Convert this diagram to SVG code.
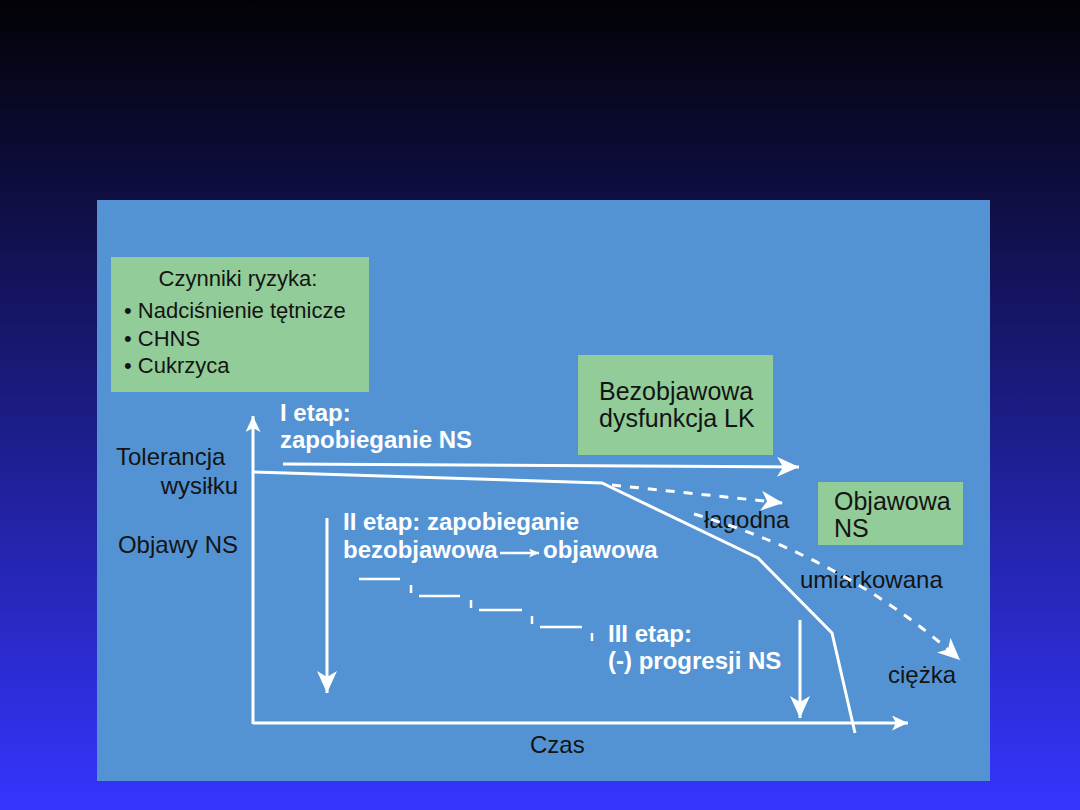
<svg xmlns="http://www.w3.org/2000/svg" width="1080" height="810" viewBox="0 0 1080 810">
  <defs>
    <linearGradient id="bg" x1="0" y1="0" x2="0" y2="1">
      <stop offset="0" stop-color="#020206"/>
      <stop offset="1" stop-color="#3535ff"/>
    </linearGradient>
    <marker id="ah" markerUnits="userSpaceOnUse" markerWidth="24" markerHeight="22" refX="22" refY="10" orient="auto">
      <path d="M0,0 L22,10 L0,20 L6,10 Z" fill="#ffffff"/>
    </marker>
    <marker id="ahs" markerUnits="userSpaceOnUse" markerWidth="18" markerHeight="16" refX="16" refY="7.5" orient="auto">
      <path d="M0,0 L16,7.5 L0,15 L4,7.5 Z" fill="#ffffff"/>
    </marker>
    <marker id="aht" markerUnits="userSpaceOnUse" markerWidth="12" markerHeight="10" refX="10" refY="4.5" orient="auto">
      <path d="M0,0 L10,4.5 L0,9 L2.5,4.5 Z" fill="#ffffff"/>
    </marker>
    <style>
      .box { fill: #92cc98; }
      .t { font-family: "Liberation Sans", Arial, sans-serif; fill: #141414; }
      .w { font-family: "Liberation Sans", Arial, sans-serif; fill: #ffffff; font-weight: bold; font-size: 24px; }
      .ln { stroke: #ffffff; stroke-width: 3; fill: none; }
      .dash { stroke: #ffffff; stroke-width: 3; fill: none; stroke-dasharray: 9 9; }
      .st { stroke: #ffffff; stroke-width: 2.5; fill: none; }
    </style>
  </defs>

  <rect x="0" y="0" width="1080" height="810" fill="url(#bg)"/>
  <rect x="97" y="200" width="893" height="581" fill="#5393d3"/>

  <g id="risk-factors">
    <rect class="box" x="111" y="257" width="258" height="135"/>
    <text class="t" x="238" y="286" font-size="22" text-anchor="middle">Czynniki ryzyka:</text>
    <text class="t" x="124" y="318" font-size="22">• Nadciśnienie tętnicze</text>
    <text class="t" x="124" y="346" font-size="22">• CHNS</text>
    <text class="t" x="124" y="373" font-size="22">• Cukrzyca</text>
  </g>

  <g id="asymptomatic-lv">
    <rect class="box" x="578" y="355" width="195" height="100"/>
    <text class="t" x="599" y="400" font-size="25">Bezobjawowa</text>
    <text class="t" x="599" y="427" font-size="25">dysfunkcja LK</text>
  </g>

  <g id="symptomatic-hf">
    <rect class="box" x="818" y="482" width="145" height="63"/>
    <text class="t" x="834" y="510" font-size="25">Objawowa</text>
    <text class="t" x="834" y="537" font-size="25">NS</text>
  </g>

  <g id="axis-labels">
    <text class="t" x="116" y="465" font-size="24">Tolerancja</text>
    <text class="t" x="238" y="494" font-size="24" text-anchor="end">wysiłku</text>
    <text class="t" x="238" y="553" font-size="24" text-anchor="end">Objawy NS</text>
    <text class="t" x="530" y="753" font-size="24">Czas</text>
  </g>

  <g id="severity-labels">
    <text class="t" x="704" y="528" font-size="24">łagodna</text>
    <text class="t" x="800" y="588" font-size="24">umiarkowana</text>
    <text class="t" x="888" y="683" font-size="24">ciężka</text>
  </g>

  <g id="stage-labels">
    <text class="w" x="280" y="421">I etap:</text>
    <text class="w" x="280" y="448">zapobieganie NS</text>
    <text class="w" x="343" y="530">II etap: zapobieganie</text>
    <text class="w" x="343" y="558">bezobjawowa</text>
    <text class="w" x="543" y="558">objawowa</text>
    <text class="w" x="608" y="642">III etap:</text>
    <text class="w" x="608" y="669">(-) progresji NS</text>
  </g>

  <g id="connectors">
    <line class="ln" x1="253" y1="724" x2="253" y2="416" marker-end="url(#ahs)"/>
    <line class="ln" x1="253" y1="723" x2="908" y2="723" marker-end="url(#ahs)"/>
    <polyline class="ln" points="253,472 602,483 758,558 832,633 855,733"/>
    <line class="ln" x1="283" y1="464" x2="799" y2="467" marker-end="url(#ah)"/>
    <line class="dash" x1="612" y1="485" x2="783" y2="503" marker-end="url(#ah)"/>
    <path class="dash" d="M694,514 Q850,560 960,660" marker-end="url(#ah)"/>
    <line class="ln" x1="327" y1="518" x2="327" y2="693" marker-end="url(#ah)"/>
    <line class="ln" x1="800" y1="620" x2="800" y2="718" marker-end="url(#ah)"/>
    <line class="st" x1="500" y1="553" x2="539" y2="553" marker-end="url(#aht)"/>
    <path class="st" d="M359,579 H400 M411,585 V593 M419,596 H460 M471,600 V608 M479,610 H522 M532,616 V624 M540,627 H582 M592,633 V641"/>
  </g>
</svg>
